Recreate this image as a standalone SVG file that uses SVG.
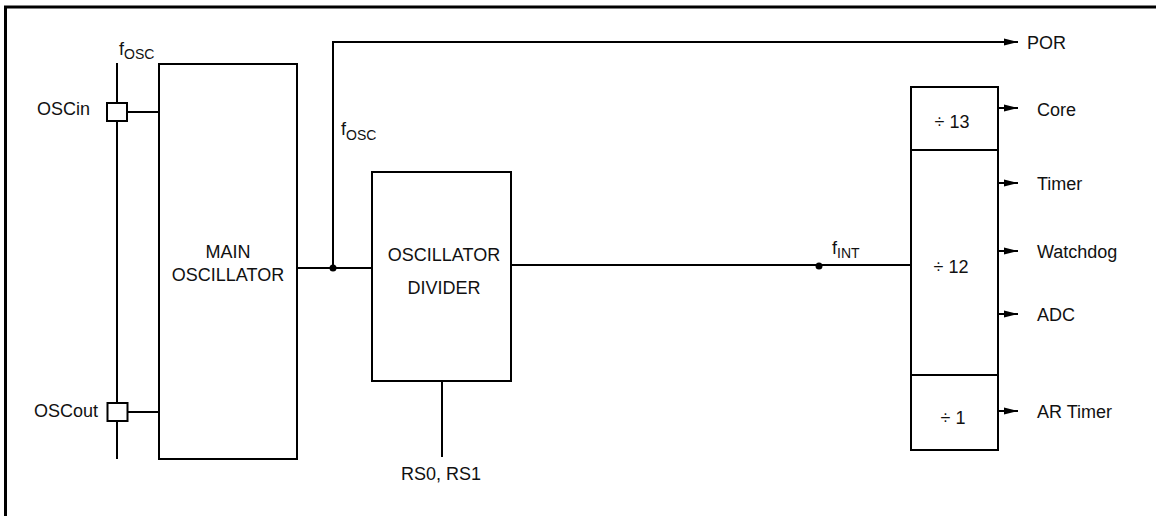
<svg xmlns="http://www.w3.org/2000/svg" width="1156" height="516" viewBox="0 0 1156 516">
<style>
text{font-family:"Liberation Sans",Arial,sans-serif;font-size:18px;fill:#111}
.sub{font-size:14px}
.box{fill:#fff;stroke:#000;stroke-width:2}
.w{fill:none;stroke:#000;stroke-width:2}
.c{text-anchor:middle}
.e{text-anchor:end}
</style>
<defs>
<marker id="ah" markerUnits="userSpaceOnUse" markerWidth="14" markerHeight="8" refX="14" refY="4" orient="auto">
<path d="M0,0.5 L14,4 L0,7.5 z" fill="#000"/>
</marker>
</defs>
<rect width="1156" height="516" fill="#fff"/>
<g id="frame">
<path d="M5.5,516 V7 H1156" fill="none" stroke="#000" stroke-width="3"/>
</g>
<g id="connectors">
<path class="w" d="M117,63 V459"/>
<path class="w" d="M128,112 H159"/>
<path class="w" d="M128,412 H159"/>
<path class="w" d="M297,268 H372"/>
<path class="w" d="M333,268 V42 H1018" marker-end="url(#ah)"/>
<path class="w" d="M511,265 H911"/>
<path class="w" d="M442,381 V457"/>
<circle cx="333" cy="268" r="3.5"/>
<circle cx="819" cy="266" r="3.5"/>
<path class="w" d="M998,108 H1018" marker-end="url(#ah)"/>
<path class="w" d="M998,183 H1018" marker-end="url(#ah)"/>
<path class="w" d="M998,251 H1018" marker-end="url(#ah)"/>
<path class="w" d="M998,314 H1018" marker-end="url(#ah)"/>
<path class="w" d="M998,411 H1018" marker-end="url(#ah)"/>
</g>
<g id="osc-in">
<rect class="box" x="107" y="103" width="20" height="18"/>
<text class="e" x="90" y="115">OSCin</text>
</g>
<g id="osc-out">
<rect class="box" x="107.5" y="403" width="20" height="18"/>
<text class="e" x="98" y="417">OSCout</text>
</g>
<g id="fosc-label-top">
<text x="119" y="55">f<tspan class="sub" dy="4">OSC</tspan></text>
</g>
<g id="main-oscillator">
<rect class="box" x="159" y="64" width="138" height="395"/>
<text class="c" x="228" y="258">MAIN</text>
<text class="c" x="228" y="281">OSCILLATOR</text>
</g>
<g id="fosc-label-mid">
<text x="341" y="135">f<tspan class="sub" dy="5">OSC</tspan></text>
</g>
<g id="oscillator-divider">
<rect class="box" x="372" y="172" width="139" height="209"/>
<text class="c" x="444" y="261">OSCILLATOR</text>
<text class="c" x="444" y="294">DIVIDER</text>
</g>
<g id="rs-label">
<text class="c" x="441" y="480">RS0, RS1</text>
</g>
<g id="fint-label">
<text x="832" y="254">f<tspan class="sub" dy="4">INT</tspan></text>
</g>
<g id="divider-chain">
<rect class="box" x="911" y="87" width="87" height="363"/>
<path class="w" d="M910,150 H998 M911,375 H998"/>
<text class="c" x="952" y="128">÷ 13</text>
<text class="c" x="951" y="273">÷ 12</text>
<text class="c" x="953" y="424">÷ 1</text>
</g>
<g id="outputs">
<text x="1027" y="49">POR</text>
<text x="1037" y="116">Core</text>
<text x="1037" y="190">Timer</text>
<text x="1037" y="258">Watchdog</text>
<text x="1037" y="321">ADC</text>
<text x="1037" y="418">AR Timer</text>
</g>
</svg>
